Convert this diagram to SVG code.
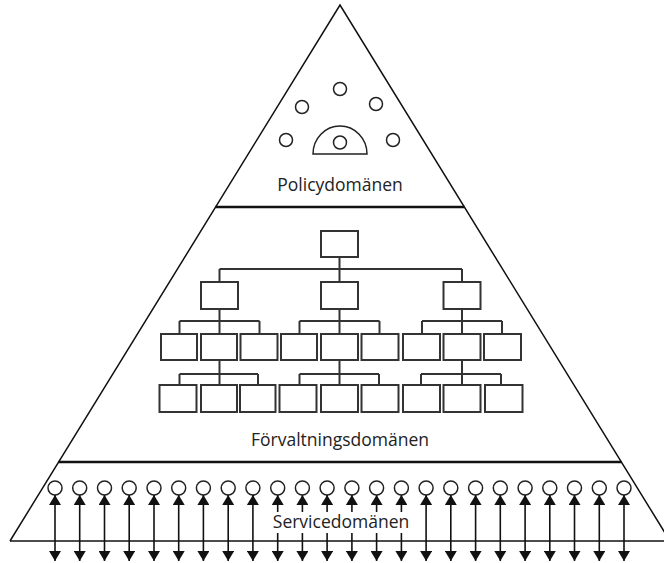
<svg xmlns="http://www.w3.org/2000/svg" width="664" height="563" viewBox="0 0 664 563">
<style>
.edge{fill:none;stroke:#111;stroke-width:1.5}
.sep{fill:none;stroke:#111;stroke-width:2.5}
.box{fill:#fff;stroke:#333;stroke-width:2}
.con{fill:none;stroke:#333;stroke-width:2}
.circ{fill:#fff;stroke:#222;stroke-width:1.5}
.arr{fill:none;stroke:#111;stroke-width:1.6}
.lbl{font-family:"Open Sans","Noto Sans",sans-serif;font-size:17.5px;fill:#222;text-anchor:middle}
</style>
<defs>
<marker id="ah" viewBox="0 0 10 12" markerWidth="10" markerHeight="12" refX="10" refY="6" orient="auto-start-reverse" markerUnits="userSpaceOnUse">
<path d="M0,0 L10,6 L0,12 z" fill="#111"/>
</marker>
</defs>
<rect width="664" height="563" fill="#fff"/>
<g id="pyramid">
<path class="edge" d="M10,541 L340,5 L670,541"/>
<line class="edge" x1="10" y1="541" x2="664" y2="541"/>
<line class="sep" x1="215.5" y1="207" x2="464.5" y2="207"/>
<line class="sep" x1="58.5" y1="462" x2="621.5" y2="462"/>
</g>
<g id="policy">
<circle class="circ" cx="340" cy="89" r="6.5"/>
<circle class="circ" cx="302" cy="107" r="6.5"/>
<circle class="circ" cx="376" cy="104" r="6.5"/>
<circle class="circ" cx="286" cy="140" r="6.5"/>
<circle class="circ" cx="393" cy="140" r="6.5"/>
<path class="circ" d="M313,154 A27,28 0 0 1 367,154 Z"/>
<circle class="circ" cx="340" cy="142.5" r="6.5"/>
<text class="lbl" x="340" y="191">Policydomänen</text>
</g>
<g id="connectors">
<path class="con" d="M339.5,257 V282 M219.5,269 H462 M219.5,269 V282 M462,269 V282"/>
<path class="con" d="M219.5,309 V334 M179.5,321 H259.5 M179.5,321 V334 M259.5,321 V334"/>
<path class="con" d="M339.5,309 V334 M299.5,321 H379.5 M299.5,321 V334 M379.5,321 V334"/>
<path class="con" d="M462,309 V334 M422,321 H502 M422,321 V334 M502,321 V334"/>
<path class="con" d="M219.5,360 V385 M179.5,374 H258 M179.5,374 V385 M258,374 V385"/>
<path class="con" d="M339.5,360 V385 M299.5,374 H379 M299.5,374 V385 M379,374 V385"/>
<path class="con" d="M462,360 V385 M421,374 H501 M421,374 V385 M501,374 V385"/>
</g>
<g id="n-top"><rect class="box" x="321" y="231" width="37" height="26"/></g>
<g id="n-l2-a"><rect class="box" x="201" y="282" width="37" height="27"/></g>
<g id="n-l2-b"><rect class="box" x="321" y="282" width="37" height="27"/></g>
<g id="n-l2-c"><rect class="box" x="443.5" y="282" width="37" height="27"/></g>
<g id="n-l3-1"><rect class="box" x="161" y="334" width="36" height="26"/></g>
<g id="n-l3-2"><rect class="box" x="201" y="334" width="36" height="26"/></g>
<g id="n-l3-3"><rect class="box" x="240.5" y="334" width="37" height="26"/></g>
<g id="n-l3-4"><rect class="box" x="281" y="334" width="36" height="26"/></g>
<g id="n-l3-5"><rect class="box" x="321" y="334" width="37" height="26"/></g>
<g id="n-l3-6"><rect class="box" x="361.5" y="334" width="37" height="26"/></g>
<g id="n-l3-7"><rect class="box" x="403" y="334" width="37" height="26"/></g>
<g id="n-l3-8"><rect class="box" x="443.5" y="334" width="37" height="26"/></g>
<g id="n-l3-9"><rect class="box" x="484" y="334" width="37" height="26"/></g>
<g id="n-l4-1"><rect class="box" x="159.5" y="385" width="37" height="27"/></g>
<g id="n-l4-2"><rect class="box" x="201" y="385" width="36" height="27"/></g>
<g id="n-l4-3"><rect class="box" x="240" y="385" width="35.5" height="27"/></g>
<g id="n-l4-4"><rect class="box" x="279.5" y="385" width="37" height="27"/></g>
<g id="n-l4-5"><rect class="box" x="321" y="385" width="37" height="27"/></g>
<g id="n-l4-6"><rect class="box" x="361.5" y="385" width="37" height="27"/></g>
<g id="n-l4-7"><rect class="box" x="403" y="385" width="37" height="27"/></g>
<g id="n-l4-8"><rect class="box" x="443.5" y="385" width="37" height="27"/></g>
<g id="n-l4-9"><rect class="box" x="485" y="385" width="37.5" height="27"/></g>
<text class="lbl" x="340" y="446">Förvaltningsdomänen</text>
<g id="service">
<g id="service-nodes">
<circle class="circ" cx="55" cy="488" r="7"/>
<circle class="circ" cx="79.7" cy="488" r="7"/>
<circle class="circ" cx="104.5" cy="488" r="7"/>
<circle class="circ" cx="129.2" cy="488" r="7"/>
<circle class="circ" cx="154" cy="488" r="7"/>
<circle class="circ" cx="178.7" cy="488" r="7"/>
<circle class="circ" cx="203.4" cy="488" r="7"/>
<circle class="circ" cx="228.2" cy="488" r="7"/>
<circle class="circ" cx="252.9" cy="488" r="7"/>
<circle class="circ" cx="277.7" cy="488" r="7"/>
<circle class="circ" cx="302.4" cy="488" r="7"/>
<circle class="circ" cx="327.1" cy="488" r="7"/>
<circle class="circ" cx="351.9" cy="488" r="7"/>
<circle class="circ" cx="376.6" cy="488" r="7"/>
<circle class="circ" cx="401.4" cy="488" r="7"/>
<circle class="circ" cx="426.1" cy="488" r="7"/>
<circle class="circ" cx="450.8" cy="488" r="7"/>
<circle class="circ" cx="475.6" cy="488" r="7"/>
<circle class="circ" cx="500.3" cy="488" r="7"/>
<circle class="circ" cx="525.1" cy="488" r="7"/>
<circle class="circ" cx="549.8" cy="488" r="7"/>
<circle class="circ" cx="574.5" cy="488" r="7"/>
<circle class="circ" cx="599.3" cy="488" r="7"/>
<circle class="circ" cx="624" cy="488" r="7"/>
</g>
<g id="service-arrows">
<line class="arr" x1="55" y1="495" x2="55" y2="561" marker-start="url(#ah)" marker-end="url(#ah)"/>
<line class="arr" x1="79.7" y1="495" x2="79.7" y2="561" marker-start="url(#ah)" marker-end="url(#ah)"/>
<line class="arr" x1="104.5" y1="495" x2="104.5" y2="561" marker-start="url(#ah)" marker-end="url(#ah)"/>
<line class="arr" x1="129.2" y1="495" x2="129.2" y2="561" marker-start="url(#ah)" marker-end="url(#ah)"/>
<line class="arr" x1="154" y1="495" x2="154" y2="561" marker-start="url(#ah)" marker-end="url(#ah)"/>
<line class="arr" x1="178.7" y1="495" x2="178.7" y2="561" marker-start="url(#ah)" marker-end="url(#ah)"/>
<line class="arr" x1="203.4" y1="495" x2="203.4" y2="561" marker-start="url(#ah)" marker-end="url(#ah)"/>
<line class="arr" x1="228.2" y1="495" x2="228.2" y2="561" marker-start="url(#ah)" marker-end="url(#ah)"/>
<line class="arr" x1="252.9" y1="495" x2="252.9" y2="561" marker-start="url(#ah)" marker-end="url(#ah)"/>
<line class="arr" x1="277.7" y1="495" x2="277.7" y2="512" marker-start="url(#ah)"/>
<line class="arr" x1="277.7" y1="533" x2="277.7" y2="561" marker-end="url(#ah)"/>
<line class="arr" x1="302.4" y1="495" x2="302.4" y2="512" marker-start="url(#ah)"/>
<line class="arr" x1="302.4" y1="533" x2="302.4" y2="561" marker-end="url(#ah)"/>
<line class="arr" x1="327.1" y1="495" x2="327.1" y2="512" marker-start="url(#ah)"/>
<line class="arr" x1="327.1" y1="533" x2="327.1" y2="561" marker-end="url(#ah)"/>
<line class="arr" x1="351.9" y1="495" x2="351.9" y2="512" marker-start="url(#ah)"/>
<line class="arr" x1="351.9" y1="533" x2="351.9" y2="561" marker-end="url(#ah)"/>
<line class="arr" x1="376.6" y1="495" x2="376.6" y2="512" marker-start="url(#ah)"/>
<line class="arr" x1="376.6" y1="533" x2="376.6" y2="561" marker-end="url(#ah)"/>
<line class="arr" x1="401.4" y1="495" x2="401.4" y2="512" marker-start="url(#ah)"/>
<line class="arr" x1="401.4" y1="533" x2="401.4" y2="561" marker-end="url(#ah)"/>
<line class="arr" x1="426.1" y1="495" x2="426.1" y2="561" marker-start="url(#ah)" marker-end="url(#ah)"/>
<line class="arr" x1="450.8" y1="495" x2="450.8" y2="561" marker-start="url(#ah)" marker-end="url(#ah)"/>
<line class="arr" x1="475.6" y1="495" x2="475.6" y2="561" marker-start="url(#ah)" marker-end="url(#ah)"/>
<line class="arr" x1="500.3" y1="495" x2="500.3" y2="561" marker-start="url(#ah)" marker-end="url(#ah)"/>
<line class="arr" x1="525.1" y1="495" x2="525.1" y2="561" marker-start="url(#ah)" marker-end="url(#ah)"/>
<line class="arr" x1="549.8" y1="495" x2="549.8" y2="561" marker-start="url(#ah)" marker-end="url(#ah)"/>
<line class="arr" x1="574.5" y1="495" x2="574.5" y2="561" marker-start="url(#ah)" marker-end="url(#ah)"/>
<line class="arr" x1="599.3" y1="495" x2="599.3" y2="561" marker-start="url(#ah)" marker-end="url(#ah)"/>
<line class="arr" x1="624" y1="495" x2="624" y2="561" marker-start="url(#ah)" marker-end="url(#ah)"/>
</g>
<text class="lbl" x="341" y="528">Servicedomänen</text>
</g>
</svg>
